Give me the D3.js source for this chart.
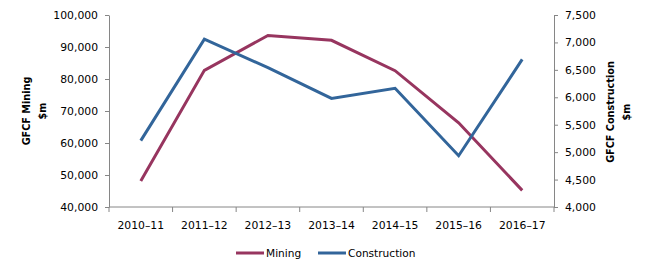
<!DOCTYPE html>
<html>
<head>
<meta charset="utf-8">
<script src="https://cdn.jsdelivr.net/npm/d3@7"></script>
<style>
  html, body { margin: 0; padding: 0; background: #fff; }
  svg { display: block; }
  text { font-family: "DejaVu Sans", Verdana, sans-serif; fill: #000; }
</style>
</head>
<body>
<svg id="chart" width="650" height="273"></svg>
<script>
const categories = ["2010–11", "2011–12", "2012–13", "2013–14", "2014–15", "2015–16", "2016–17"];
const mining = [48100, 82700, 93600, 92100, 82600, 66300, 45200];
const construction = [5210, 7060, 6540, 5980, 6165, 4935, 6690];
const leftTicks = [40000, 50000, 60000, 70000, 80000, 90000, 100000];
const rightTicks = [4000, 4500, 5000, 5500, 6000, 6500, 7000, 7500];
const seriesNames = ["Mining", "Construction"];
const seriesColors = ["#97355F", "#32659A"];

const svg = d3.select("#chart");
const M = { left: 109, right: 554, top: 15, bottom: 207 };
const fmt = d3.format(",");

const x = d3.scaleBand().domain(categories).range([M.left, M.right]).padding(0);
const yL = d3.scaleLinear().domain([40000, 100000]).range([M.bottom, M.top]);
const yR = d3.scaleLinear().domain([4000, 7500]).range([M.bottom, M.top]);

const axisColor = "#868686";

const gL = svg.append("g").attr("transform", `translate(${M.left},0)`)
  .call(d3.axisLeft(yL).tickValues(leftTicks).tickFormat(fmt).tickSize(4).tickPadding(7).tickSizeOuter(0));
const gR = svg.append("g").attr("transform", `translate(${M.right},0)`)
  .call(d3.axisRight(yR).tickValues(rightTicks).tickFormat(fmt).tickSize(4).tickPadding(7).tickSizeOuter(0));
const gB = svg.append("g").attr("transform", `translate(0,${M.bottom})`)
  .call(d3.axisBottom(x).tickSize(0).tickPadding(14).tickSizeOuter(0));

const bounds = categories.map(c => x(c)).concat([x(categories[categories.length - 1]) + x.bandwidth()]);
svg.append("g").selectAll("line").data(bounds).join("line")
  .attr("x1", d => d).attr("x2", d => d)
  .attr("y1", M.bottom).attr("y2", M.bottom + 5)
  .attr("stroke", axisColor).attr("stroke-width", 1);

[gL, gR, gB].forEach(g => {
  g.selectAll("path.domain").attr("stroke", axisColor).attr("stroke-width", 1);
  g.selectAll(".tick line").attr("stroke", axisColor);
  g.selectAll(".tick text").attr("font-family", "DejaVu Sans, Verdana, sans-serif").attr("font-size", "10.8px").attr("fill", "#000");
});
gB.select("path.domain").remove();
svg.append("line").attr("x1", M.left).attr("x2", M.right).attr("y1", M.bottom).attr("y2", M.bottom)
  .attr("stroke", axisColor).attr("stroke-width", 1);

const lineL = d3.line().x((d, i) => x(categories[i]) + x.bandwidth() / 2).y(d => yL(d));
const lineR = d3.line().x((d, i) => x(categories[i]) + x.bandwidth() / 2).y(d => yR(d));

svg.append("path").datum(mining).attr("d", lineL)
  .attr("fill", "none").attr("stroke", seriesColors[0]).attr("stroke-width", 3);
svg.append("path").datum(construction).attr("d", lineR)
  .attr("fill", "none").attr("stroke", seriesColors[1]).attr("stroke-width", 3);

function title(cx, cy, lines) {
  const t = svg.append("text")
    .attr("transform", `translate(${cx},${cy}) rotate(-90)`)
    .attr("text-anchor", "middle")
    .attr("font-weight", "bold")
    .attr("font-size", "9.7px");
  lines.forEach((l, i) => {
    t.append("tspan").attr("x", 0).attr("y", i * 15.5).text(l);
  });
}
title(30, 111, ["GFCF Mining", "$m"]);
title(614, 112, ["GFCF Construction", "$m"]);

const legendItems = [
  { name: seriesNames[0], color: seriesColors[0], x: 236 },
  { name: seriesNames[1], color: seriesColors[1], x: 318 }
];
const lg = svg.append("g");
legendItems.forEach(it => {
  lg.append("line").attr("x1", it.x).attr("x2", it.x + 28).attr("y1", 253).attr("y2", 253)
    .attr("stroke", it.color).attr("stroke-width", 3);
  lg.append("text").attr("x", it.x + 30).attr("y", 257).attr("font-size", "10.6px").text(it.name);
});
</script>
</body>
</html>
